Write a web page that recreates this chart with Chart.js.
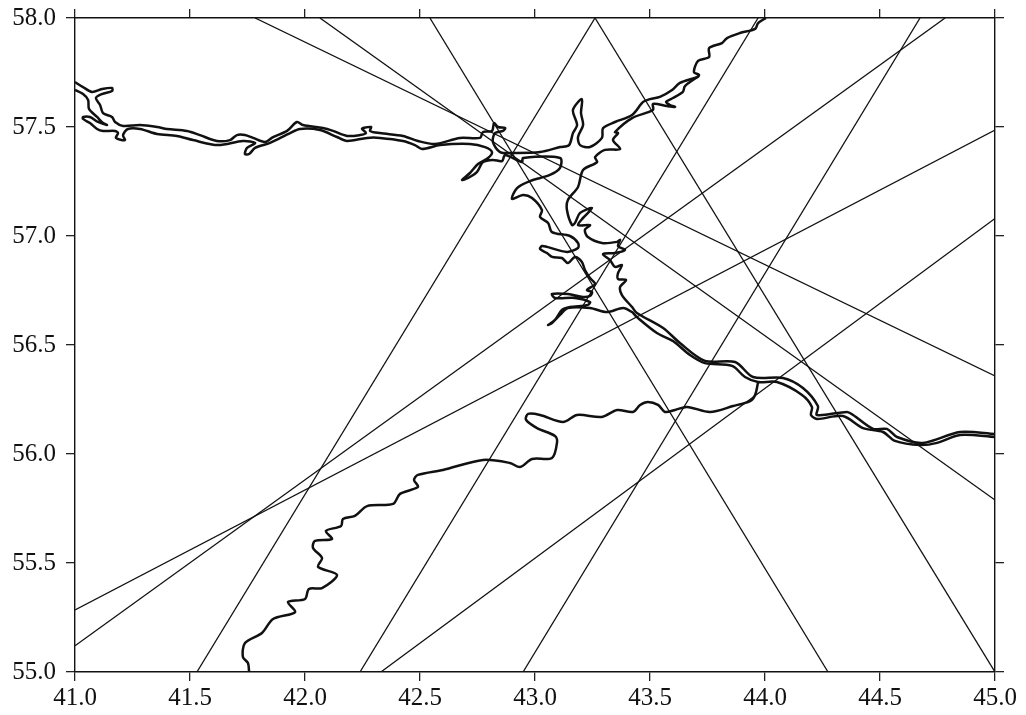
<!DOCTYPE html>
<html>
<head>
<meta charset="utf-8">
<title>River map with track lines</title>
<script src="https://cdn.jsdelivr.net/npm/chart.js@4/dist/chart.umd.min.js"></script>
<style>
  html, body { margin: 0; padding: 0; background: #fff; }
  canvas { display: block; }
</style>
</head>
<body>
<canvas id="chart" width="1026" height="715"></canvas>
<script>
// tick labels
const lonTicks = [41.0, 41.5, 42.0, 42.5, 43.0, 43.5, 44.0, 44.5, 45.0];
const latTicks = [55.0, 55.5, 56.0, 56.5, 57.0, 57.5, 58.0];

// straight tracks, [lon, lat] at each end
const track1 = [[41.783, 58], [45, 56.358]];
const track2 = [[42.065, 58], [45, 55.789]];
const track3 = [[42.543, 58], [44.274, 55]];
const track4 = [[43.261, 58], [45, 55]];
const track5 = [[43.261, 58], [41.53, 55]];
const track6 = [[43.97, 58], [42.239, 55]];
const track7 = [[44.674, 58], [42.948, 55]];
const track8 = [[41, 55.12], [44.783, 58]];
const track9 = [[41, 55.285], [45, 57.486]];
const track10 = [[42.33, 55], [45, 57.08]];

// north bank, left edge up the arm to the top edge
const northBank = [[41,57.706],[41.035,57.683],[41.074,57.661],[41.117,57.674],[41.161,57.679],[41.161,57.665],[41.117,57.651],[41.091,57.633],[41.109,57.601],[41.122,57.564],[41.161,57.546],[41.174,57.523],[41.209,57.505],[41.283,57.509],[41.357,57.5],[41.4,57.491],[41.487,57.482],[41.543,57.463],[41.617,57.436],[41.674,57.44],[41.704,57.463],[41.739,57.463],[41.774,57.45],[41.826,57.431],[41.861,57.454],[41.922,57.482],[41.965,57.523],[41.991,57.509],[42.078,57.495],[42.122,57.482],[42.183,57.459],[42.239,57.463],[42.265,57.472],[42.248,57.491],[42.252,57.495],[42.287,57.5],[42.283,57.482],[42.326,57.472],[42.426,57.459],[42.491,57.436],[42.565,57.422],[42.674,57.45],[42.761,57.45],[42.774,57.477],[42.813,57.482],[42.822,57.518],[42.839,57.5],[42.87,57.495],[42.861,57.482],[42.826,57.472],[42.817,57.431],[42.848,57.385],[42.904,57.381],[43.022,57.385],[43.109,57.408],[43.148,57.417],[43.165,57.472],[43.183,57.509],[43.165,57.578],[43.204,57.628],[43.2,57.564],[43.209,57.509],[43.187,57.454],[43.196,57.417],[43.239,57.408],[43.291,57.45],[43.296,57.495],[43.348,57.523],[43.422,57.555],[43.47,57.615],[43.5,57.628],[43.543,57.638],[43.596,57.67],[43.63,57.702],[43.704,57.729],[43.713,57.739],[43.691,57.752],[43.709,57.803],[43.757,57.821],[43.757,57.862],[43.813,57.885],[43.835,57.908],[43.891,57.931],[43.957,57.95],[43.97,57.977],[44.004,58]];

// east bank, from the arm down to the right edge
const eastBank = [[43.713,57.734],[43.652,57.688],[43.643,57.661],[43.6,57.633],[43.57,57.615],[43.587,57.601],[43.609,57.592],[43.574,57.596],[43.513,57.606],[43.513,57.578],[43.422,57.541],[43.348,57.477],[43.361,57.472],[43.339,57.44],[43.37,57.399],[43.304,57.395],[43.261,57.362],[43.27,57.339],[43.209,57.303],[43.187,57.225],[43.143,57.165],[43.139,57.119],[43.161,57.05],[43.174,57.06],[43.196,57.106],[43.248,57.128],[43.209,57.083],[43.187,57.05],[43.239,57.05],[43.217,57.028],[43.23,56.995],[43.291,56.968],[43.357,56.973],[43.37,56.982],[43.361,56.954],[43.391,56.936],[43.348,56.922],[43.296,56.917],[43.326,56.89],[43.348,56.858],[43.378,56.867],[43.361,56.83],[43.361,56.803],[43.396,56.798],[43.37,56.766],[43.378,56.729],[43.422,56.674],[43.443,56.647],[43.557,56.578],[43.63,56.509],[43.739,56.427],[43.87,56.422],[43.948,56.353],[44.078,56.349],[44.165,56.303],[44.23,56.22],[44.226,56.179],[44.357,56.193],[44.383,56.179],[44.47,56.115],[44.53,56.115],[44.574,56.078],[44.687,56.051],[44.848,56.101],[45,56.092]];

// south bank, left edge through the junction down to the right edge
const southBank = [[41,57.67],[41.035,57.651],[41.057,57.624],[41.061,57.583],[41.096,57.546],[41.122,57.518],[41.139,57.509],[41.1,57.523],[41.065,57.546],[41.035,57.546],[41.035,57.537],[41.065,57.518],[41.096,57.491],[41.122,57.482],[41.174,57.482],[41.187,57.472],[41.178,57.45],[41.217,57.44],[41.209,57.463],[41.23,57.491],[41.283,57.491],[41.357,57.468],[41.443,57.459],[41.513,57.44],[41.622,57.417],[41.73,57.436],[41.783,57.427],[41.748,57.404],[41.739,57.376],[41.757,57.376],[41.783,57.404],[41.848,57.427],[41.935,57.472],[41.978,57.491],[42.065,57.486],[42.139,57.454],[42.183,57.436],[42.27,57.45],[42.326,57.45],[42.426,57.436],[42.478,57.417],[42.509,57.399],[42.587,57.417],[42.717,57.422],[42.783,57.408],[42.813,57.385],[42.796,57.358],[42.752,57.33],[42.717,57.289],[42.683,57.257],[42.709,57.266],[42.748,57.294],[42.774,57.339],[42.817,57.349],[42.857,57.344],[42.87,57.372],[42.943,57.339],[42.948,57.358],[43.109,57.358],[43.109,57.312],[43.065,57.28],[42.978,57.252],[42.922,57.22],[42.9,57.17],[42.948,57.188],[42.987,57.174],[43.03,57.119],[43.022,57.087],[43.057,57.06],[43.074,57.018],[43.152,57],[43.187,56.968],[43.187,56.945],[43.139,56.927],[43.052,56.95],[43.03,56.954],[43.022,56.94],[43.052,56.922],[43.074,56.904],[43.117,56.899],[43.143,56.876],[43.174,56.904],[43.204,56.881],[43.217,56.844],[43.239,56.807],[43.261,56.78],[43.226,56.752],[43.248,56.743],[43.239,56.725],[43.209,56.72],[43.143,56.734],[43.074,56.734],[43.087,56.716],[43.174,56.716],[43.239,56.697],[43.23,56.684],[43.152,56.674],[43.117,56.661],[43.087,56.615],[43.057,56.592],[43.074,56.601],[43.109,56.638],[43.143,56.67],[43.239,56.67],[43.313,56.651],[43.383,56.67],[43.422,56.651],[43.443,56.628],[43.53,56.555],[43.6,56.518],[43.674,56.454],[43.739,56.417],[43.857,56.404],[43.913,56.353],[43.97,56.33],[44.052,56.33],[44.161,56.271],[44.204,56.216],[44.2,56.179],[44.226,56.161],[44.339,56.174],[44.426,56.119],[44.513,56.101],[44.565,56.06],[44.674,56.041],[44.748,56.051],[44.848,56.087],[45,56.078]];

// southern tributary, single line from the junction to the bottom edge
const tributary = [[43.97,56.33],[43.957,56.271],[43.935,56.243],[43.861,56.22],[43.761,56.193],[43.661,56.216],[43.609,56.202],[43.565,56.193],[43.535,56.225],[43.491,56.239],[43.457,56.225],[43.426,56.193],[43.357,56.202],[43.291,56.17],[43.183,56.179],[43.122,56.147],[43.022,56.179],[42.97,56.184],[42.961,56.157],[43.009,56.119],[43.087,56.083],[43.096,56.055],[43.074,55.982],[42.987,55.977],[42.935,55.94],[42.891,55.959],[42.774,55.973],[42.6,55.927],[42.491,55.904],[42.474,55.881],[42.491,55.849],[42.413,55.817],[42.383,55.771],[42.27,55.761],[42.217,55.716],[42.165,55.702],[42.157,55.67],[42.091,55.647],[42.117,55.61],[42.043,55.601],[42.035,55.569],[42.074,55.523],[42.057,55.482],[42.139,55.445],[42.074,55.385],[42.017,55.381],[42,55.335],[41.926,55.321],[41.957,55.275],[41.861,55.243],[41.813,55.179],[41.739,55.133],[41.73,55.069],[41.752,55.041],[41.757,55]];

const tracks = [track1, track2, track3, track4, track5, track6, track7, track8, track9, track10];
const rivers = [northBank, eastBank, southBank, tributary];

function toPoints(list) {
  return list.map(p => ({ x: p[0], y: p[1] }));
}

const datasets = [];
tracks.forEach(t => datasets.push({
  data: toPoints(t), borderColor: '#111', borderWidth: 1.3, pointRadius: 0, showLine: true, tension: 0
}));
rivers.forEach(r => datasets.push({
  data: toPoints(r), borderColor: '#111', borderWidth: 2.5, pointRadius: 0, showLine: true, tension: 0.3,
  borderJoinStyle: 'round'
}));

const labelFont = { family: '"Liberation Serif"', size: 25 };

// fixes the axis band so the plot box lands where the reference has it
function bandHeight(h) {
  return scale => { scale.height = h; scale.paddingLeft = 0; scale.paddingRight = 0; };
}
function bandWidth(w) {
  return scale => { scale.width = w; scale.paddingTop = 0; scale.paddingBottom = 0; };
}

function baseAxis(ticksList, position, show) {
  return {
    type: 'linear',
    position: position,
    min: ticksList[0],
    max: ticksList[ticksList.length - 1],
    afterBuildTicks: scale => { scale.ticks = ticksList.map(v => ({ value: v })); },
    grid: { drawOnChartArea: false, tickLength: 9, color: '#222', lineWidth: 1.3 },
    border: { display: true, color: '#111', width: 1.4 },
    ticks: {
      display: show,
      color: '#111',
      font: labelFont,
      maxRotation: 0,
      autoSkip: false,
      callback: v => Number(v).toFixed(1)
    }
  };
}

const xAxis = baseAxis(lonTicks, 'bottom', true);
xAxis.ticks.padding = 2;
xAxis.afterFit = bandHeight(43);
const xTop = baseAxis(lonTicks, 'top', false);
xTop.afterFit = bandHeight(18);
const yAxis = baseAxis(latTicks, 'left', true);
yAxis.ticks.padding = 10;
yAxis.afterFit = bandWidth(75);
const yRight = baseAxis(latTicks, 'right', false);
yRight.afterFit = bandWidth(31);

new Chart(document.getElementById('chart').getContext('2d'), {
  type: 'scatter',
  data: { datasets: datasets },
  options: {
    responsive: false,
    animation: false,
    layout: { padding: 0 },
    plugins: { legend: { display: false }, tooltip: { enabled: false } },
    scales: { x: xAxis, xTop: xTop, y: yAxis, yRight: yRight }
  }
});
</script>
</body>
</html>
